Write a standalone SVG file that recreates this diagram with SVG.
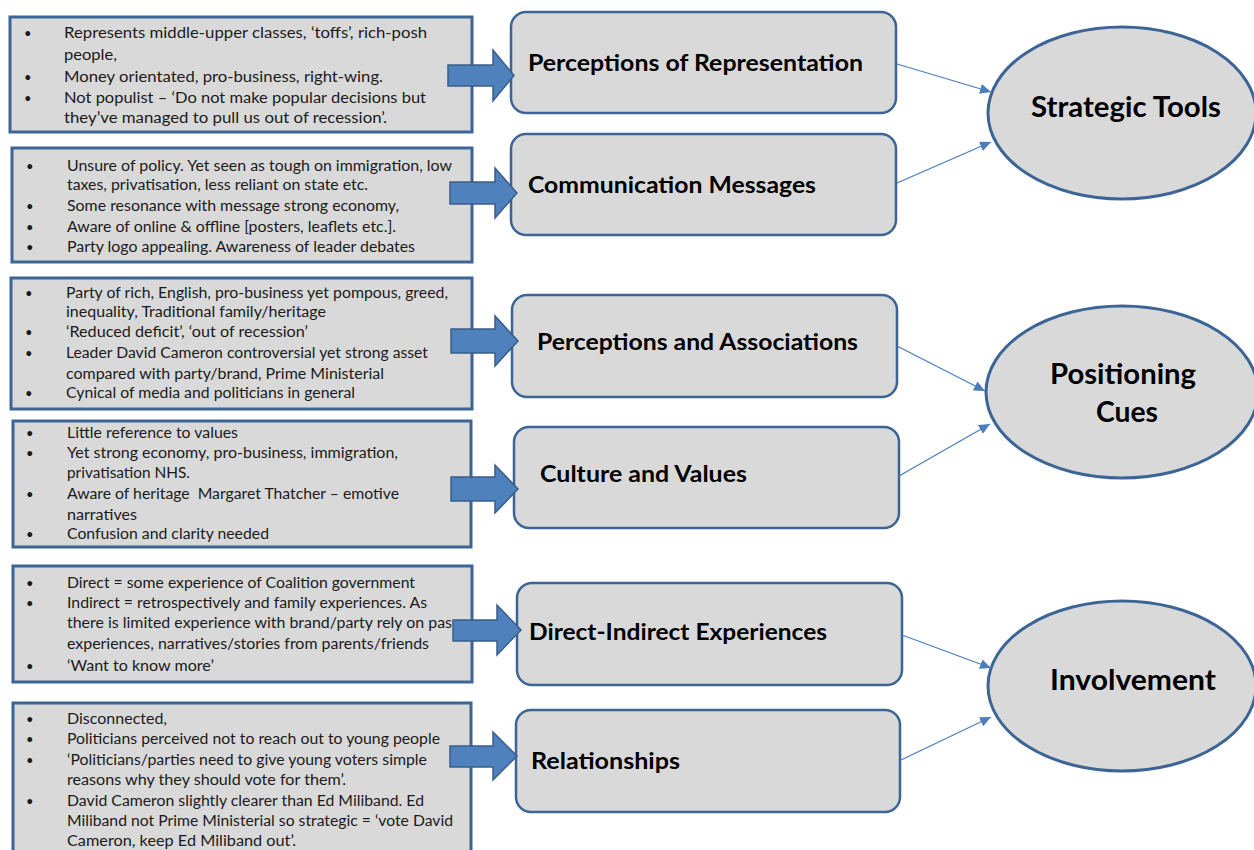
<svg xmlns="http://www.w3.org/2000/svg" width="1254" height="850" viewBox="0 0 1254 850">
<defs>
<style>
.box{fill:#D9D9D9;stroke:#3C6596;stroke-width:3}
.rbox{fill:#D9D9D9;stroke:#3C6596;stroke-width:2.5}
.ell{fill:#D9D9D9;stroke:#3C6596;stroke-width:3}
.t{font-family:Lato,'Liberation Sans',sans-serif;font-size:14.5px;fill:#1a1a1a}
.b{font-family:Lato,'Liberation Sans',sans-serif;font-size:13px;fill:#1a1a1a}
.lbl{font-family:Lato,'Liberation Sans',sans-serif;font-size:22px;font-weight:bold;fill:#000}
.big{font-family:Lato,'Liberation Sans',sans-serif;font-size:28px;font-weight:bold;fill:#000}
.conn{stroke:#4A7EBB;stroke-width:1.3;fill:none}
.blk{fill:#4F81BD;stroke:#385D8A;stroke-width:1.5}
</style>
<marker id="ah" markerUnits="userSpaceOnUse" markerWidth="12" markerHeight="10" refX="11" refY="5" orient="auto">
<path d="M0,0 L11,5 L0,10 Z" fill="#4A7EBB"/>
</marker>
</defs>
<rect width="1254" height="850" fill="#FFFFFF"/>

<g id="box-rep-notes">
<rect class="box" x="10" y="17" width="462" height="115"/>
<text class="b" x="24" y="38">•</text>
<text class="b" x="24" y="81.5">•</text>
<text class="b" x="24" y="103">•</text>
<text class="t" x="64" y="38" textLength="363" lengthAdjust="spacingAndGlyphs">Represents middle-upper classes, ‘toffs’, rich-posh</text>
<text class="t" x="64" y="60" textLength="53" lengthAdjust="spacingAndGlyphs">people,</text>
<text class="t" x="64" y="81.5" textLength="319" lengthAdjust="spacingAndGlyphs">Money orientated, pro-business, right-wing.</text>
<text class="t" x="64" y="103" textLength="362" lengthAdjust="spacingAndGlyphs">Not populist – ‘Do not make popular decisions but</text>
<text class="t" x="64" y="123" textLength="323" lengthAdjust="spacingAndGlyphs">they’ve managed to pull us out of recession’.</text>
</g>

<g id="box-comm-notes">
<rect class="box" x="12" y="148" width="460" height="114"/>
<text class="b" x="26" y="170.5">•</text>
<text class="b" x="26" y="211">•</text>
<text class="b" x="26" y="231.5">•</text>
<text class="b" x="26" y="252">•</text>
<text class="t" x="67" y="170.5" textLength="385" lengthAdjust="spacingAndGlyphs">Unsure of policy. Yet seen as tough on immigration, low</text>
<text class="t" x="67" y="190" textLength="301" lengthAdjust="spacingAndGlyphs">taxes, privatisation, less reliant on state etc.</text>
<text class="t" x="67" y="211" textLength="332" lengthAdjust="spacingAndGlyphs">Some resonance with message strong economy,</text>
<text class="t" x="67" y="231.5" textLength="329" lengthAdjust="spacingAndGlyphs">Aware of online &amp; offline [posters, leaflets etc.].</text>
<text class="t" x="67" y="252" textLength="348" lengthAdjust="spacingAndGlyphs">Party logo appealing. Awareness of leader debates</text>
</g>

<g id="box-assoc-notes">
<rect class="box" x="11" y="278" width="461" height="131"/>
<text class="b" x="25" y="298">•</text>
<text class="b" x="25" y="337">•</text>
<text class="b" x="25" y="358">•</text>
<text class="b" x="25" y="398">•</text>
<text class="t" x="66" y="298" textLength="382" lengthAdjust="spacingAndGlyphs">Party of rich, English, pro-business yet pompous, greed,</text>
<text class="t" x="66" y="317" textLength="260" lengthAdjust="spacingAndGlyphs">inequality, Traditional family/heritage</text>
<text class="t" x="66" y="337" textLength="242" lengthAdjust="spacingAndGlyphs">‘Reduced deficit’, ‘out of recession’</text>
<text class="t" x="66" y="358" textLength="362" lengthAdjust="spacingAndGlyphs">Leader David Cameron controversial yet strong asset</text>
<text class="t" x="66" y="379" textLength="318" lengthAdjust="spacingAndGlyphs">compared with party/brand, Prime Ministerial</text>
<text class="t" x="66" y="398" textLength="289" lengthAdjust="spacingAndGlyphs">Cynical of media and politicians in general</text>
</g>

<g id="box-values-notes">
<rect class="box" x="13" y="421" width="458" height="126"/>
<text class="b" x="26" y="438">•</text>
<text class="b" x="26" y="458">•</text>
<text class="b" x="26" y="499">•</text>
<text class="b" x="26" y="539">•</text>
<text class="t" x="67" y="438" textLength="171" lengthAdjust="spacingAndGlyphs">Little reference to values</text>
<text class="t" x="67" y="458" textLength="331" lengthAdjust="spacingAndGlyphs">Yet strong economy, pro-business, immigration,</text>
<text class="t" x="67" y="478" textLength="123" lengthAdjust="spacingAndGlyphs">privatisation NHS.</text>
<text class="t" x="67" y="499" textLength="332" lengthAdjust="spacingAndGlyphs" xml:space="preserve">Aware of heritage  Margaret Thatcher – emotive</text>
<text class="t" x="67" y="520" textLength="70" lengthAdjust="spacingAndGlyphs">narratives</text>
<text class="t" x="67" y="539" textLength="202" lengthAdjust="spacingAndGlyphs">Confusion and clarity needed</text>
</g>

<g id="box-exp-notes">
<rect class="box" x="13" y="566" width="459" height="116"/>
<text class="b" x="26" y="588">•</text>
<text class="b" x="26" y="608">•</text>
<text class="b" x="26" y="671">•</text>
<text class="t" x="67" y="588" textLength="348" lengthAdjust="spacingAndGlyphs">Direct = some experience of Coalition government</text>
<text class="t" x="67" y="608" textLength="360" lengthAdjust="spacingAndGlyphs">Indirect = retrospectively and family experiences. As</text>
<text class="t" x="67" y="628" textLength="385" lengthAdjust="spacingAndGlyphs">there is limited experience with brand/party rely on pas</text>
<text class="t" x="67" y="649" textLength="362" lengthAdjust="spacingAndGlyphs">experiences, narratives/stories from parents/friends</text>
<text class="t" x="67" y="671" textLength="147" lengthAdjust="spacingAndGlyphs">‘Want to know more’</text>
</g>

<g id="box-rel-notes">
<rect class="box" x="13" y="703" width="458" height="160"/>
<text class="b" x="26" y="724">•</text>
<text class="b" x="26" y="744">•</text>
<text class="b" x="26" y="765">•</text>
<text class="b" x="26" y="806">•</text>
<text class="t" x="67" y="724" textLength="100" lengthAdjust="spacingAndGlyphs">Disconnected,</text>
<text class="t" x="67" y="744" textLength="373" lengthAdjust="spacingAndGlyphs">Politicians perceived not to reach out to young people</text>
<text class="t" x="67" y="765" textLength="360" lengthAdjust="spacingAndGlyphs">‘Politicians/parties need to give young voters simple</text>
<text class="t" x="67" y="785" textLength="279" lengthAdjust="spacingAndGlyphs">reasons why they should vote for them’.</text>
<text class="t" x="67" y="806" textLength="357" lengthAdjust="spacingAndGlyphs">David Cameron slightly clearer than Ed Miliband. Ed</text>
<text class="t" x="67" y="826" textLength="386" lengthAdjust="spacingAndGlyphs">Miliband not Prime Ministerial so strategic = ‘vote David</text>
<text class="t" x="67" y="846" textLength="229" lengthAdjust="spacingAndGlyphs">Cameron, keep Ed Miliband out’.</text>
</g>

<g id="node-perceptions-representation">
<rect class="rbox" x="511" y="12" width="385" height="101" rx="15"/>
<text class="lbl" x="528" y="71" textLength="335" lengthAdjust="spacingAndGlyphs">Perceptions of Representation</text>
</g>
<g id="node-communication-messages">
<rect class="rbox" x="511" y="134" width="385" height="101" rx="15"/>
<text class="lbl" x="528" y="193" textLength="288" lengthAdjust="spacingAndGlyphs">Communication Messages</text>
</g>
<g id="node-perceptions-associations">
<rect class="rbox" x="512" y="295" width="385" height="102" rx="15"/>
<text class="lbl" x="537" y="350" textLength="321" lengthAdjust="spacingAndGlyphs">Perceptions and Associations</text>
</g>
<g id="node-culture-values">
<rect class="rbox" x="514" y="427" width="385" height="101" rx="15"/>
<text class="lbl" x="540" y="482" textLength="207" lengthAdjust="spacingAndGlyphs">Culture and Values</text>
</g>
<g id="node-direct-indirect">
<rect class="rbox" x="517" y="583" width="385" height="102" rx="15"/>
<text class="lbl" x="529" y="640" textLength="298" lengthAdjust="spacingAndGlyphs">Direct-Indirect Experiences</text>
</g>
<g id="node-relationships">
<rect class="rbox" x="516" y="710" width="384" height="102" rx="15"/>
<text class="lbl" x="531" y="769" textLength="149" lengthAdjust="spacingAndGlyphs">Relationships</text>
</g>

<g id="node-strategic-tools">
<ellipse class="ell" cx="1122" cy="113" rx="134" ry="86"/>
<text class="big" x="1031" y="117" textLength="190" lengthAdjust="spacingAndGlyphs">Strategic Tools</text>
</g>
<g id="node-positioning-cues">
<ellipse class="ell" cx="1122" cy="392" rx="136" ry="86"/>
<text class="big" x="1050" y="384" textLength="146" lengthAdjust="spacingAndGlyphs">Positioning</text>
<text class="big" x="1096" y="422" textLength="62" lengthAdjust="spacingAndGlyphs">Cues</text>
</g>
<g id="node-involvement">
<ellipse class="ell" cx="1122" cy="686" rx="134" ry="85"/>
<text class="big" x="1050" y="690" textLength="166" lengthAdjust="spacingAndGlyphs">Involvement</text>
</g>

<g id="connectors">
<polygon class="blk" points="448,65 493,65 493,50 514,75.5 493,101 493,86 448,86"/>
<polygon class="blk" points="450,182 495,182 495,168 517,193 495,218 495,204 450,204"/>
<polygon class="blk" points="451,329 495,329 495,316 518,341 495,366 495,353 451,353"/>
<polygon class="blk" points="451,477 495,477 495,465 518,489 495,513 495,501 451,501"/>
<polygon class="blk" points="453,620 497,620 497,605 521,630 497,655 497,641 453,641"/>
<polygon class="blk" points="450,746 493,746 493,732 517,756 493,780 493,767 450,767"/>
<line class="conn" x1="897" y1="64" x2="991" y2="92" marker-end="url(#ah)"/>
<line class="conn" x1="897" y1="183" x2="991" y2="142" marker-end="url(#ah)"/>
<line class="conn" x1="897" y1="346" x2="985" y2="391" marker-end="url(#ah)"/>
<line class="conn" x1="899" y1="476" x2="990" y2="424" marker-end="url(#ah)"/>
<line class="conn" x1="902" y1="635" x2="991" y2="668" marker-end="url(#ah)"/>
<line class="conn" x1="901" y1="760" x2="991" y2="717" marker-end="url(#ah)"/>
</g>
</svg>
